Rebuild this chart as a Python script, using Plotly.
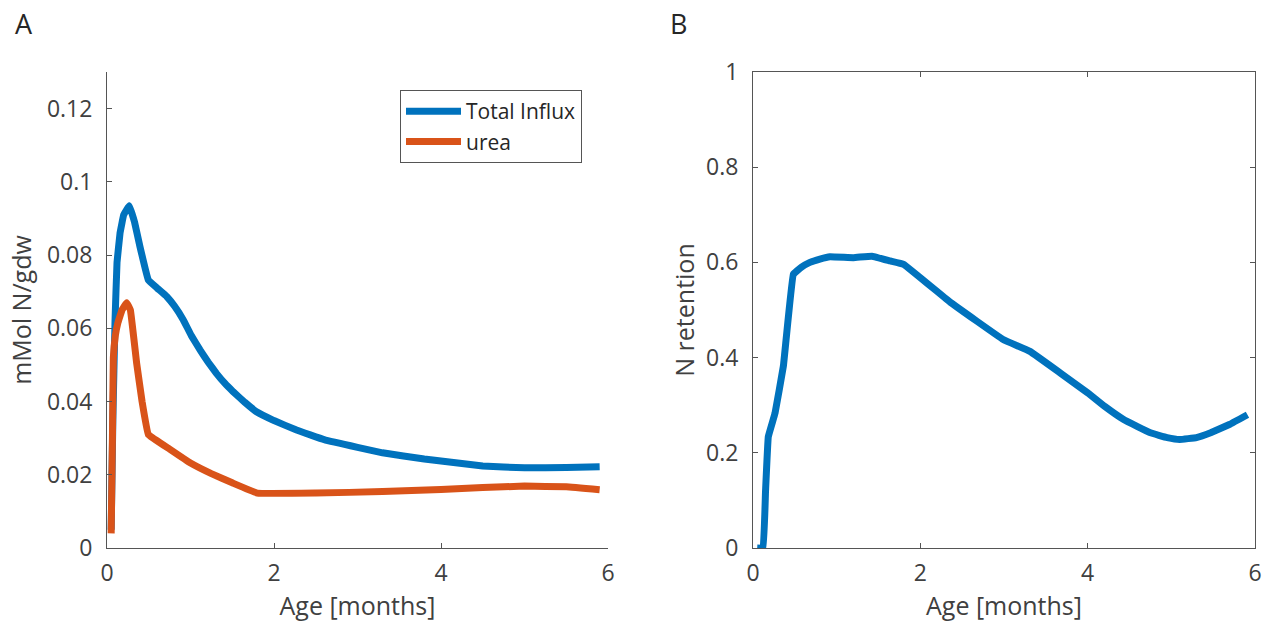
import plotly.graph_objects as go

# Panel A: nitrogen influx (mMol N / gdw) against age in months
age_influx = [0.05, 0.07, 0.096, 0.12, 0.156, 0.2, 0.267, 0.33, 0.395, 0.495, 0.6, 0.715,
              0.81, 0.914, 1.01, 1.114, 1.21, 1.31, 1.41, 1.51, 1.65, 1.79, 2.0, 2.27, 2.6,
              3.0, 3.3, 3.8, 4.5, 5.0, 5.5, 5.9]
total_influx = [0.005, 0.035, 0.062, 0.078, 0.086, 0.091, 0.0935, 0.089, 0.0823, 0.0732,
                0.071, 0.0687, 0.066, 0.0623, 0.058, 0.0541, 0.0508, 0.0477, 0.045, 0.0427,
                0.0398, 0.0372, 0.0348, 0.0322, 0.0296, 0.0275, 0.026, 0.0243, 0.0224,
                0.0219, 0.022, 0.0222]

age_urea = [0.05, 0.065, 0.076, 0.1, 0.13, 0.18, 0.236, 0.28, 0.355, 0.42, 0.495, 0.75,
            1.0, 1.25, 1.5, 1.8, 2.5, 3.3, 4.0, 4.5, 5.0, 5.5, 5.9]
urea = [0.004, 0.03, 0.052, 0.058, 0.0615, 0.065, 0.067, 0.065, 0.0505, 0.04, 0.031, 0.027,
        0.0232, 0.0203, 0.0178, 0.015, 0.015, 0.0154, 0.016, 0.0165, 0.0169, 0.0167, 0.0159]

# Panel B: nitrogen retention against age in months
age_retention = [0.05, 0.12, 0.15, 0.183, 0.263, 0.363, 0.482, 0.58, 0.68, 0.8, 0.92, 1.2,
                 1.42, 1.64, 1.8, 2.36, 2.99, 3.31, 3.67, 4.0, 4.2, 4.43, 4.75, 4.95, 5.1,
                 5.3, 5.47, 5.7, 5.91]
retention = [0.0, 0.0, 0.12, 0.234, 0.283, 0.382, 0.575, 0.59, 0.6, 0.607, 0.612, 0.61,
             0.613, 0.603, 0.596, 0.516, 0.438, 0.413, 0.368, 0.326, 0.298, 0.27, 0.242,
             0.232, 0.228, 0.232, 0.242, 0.26, 0.28]

BLUE = "#0072BD"
RED = "#D95319"
AXIS = "#555555"
TEXT = "#404040"
FONT = "Open Sans"

line_style = dict(width=7, shape="spline", smoothing=0.2)

fig = go.Figure()
fig.add_trace(go.Scatter(x=age_influx, y=total_influx, mode="lines", name="Total Influx",
                         line=dict(color=BLUE, **line_style), xaxis="x", yaxis="y"))
fig.add_trace(go.Scatter(x=age_urea, y=urea, mode="lines", name="urea",
                         line=dict(color=RED, **line_style), xaxis="x", yaxis="y"))
fig.add_trace(go.Scatter(x=age_retention, y=retention, mode="lines", showlegend=False,
                         line=dict(color=BLUE, **line_style), xaxis="x2", yaxis="y2"))

W, H = 1264, 628
y_dom = [1 - 548 / H, 1 - 72 / H]

common = dict(showgrid=False, zeroline=False, showline=True, linecolor=AXIS, linewidth=1,
              ticks="inside", ticklen=5, tickcolor=AXIS, automargin=False,
              tickfont=dict(family=FONT, size=23, color=TEXT),
              title_font=dict(family=FONT, size=25, color=TEXT))
x_common = dict(range=[0, 6], tickvals=[0, 2, 4, 6], ticklabelstandoff=4,
                title=dict(text="Age [months]", standoff=6))

fig.update_layout(
    width=W, height=H,
    margin=dict(l=0, r=0, t=0, b=0),
    paper_bgcolor="white", plot_bgcolor="white",
    font=dict(family=FONT, color=TEXT),
    xaxis=dict(domain=[107 / W, 608 / W], anchor="y", **x_common, **common),
    yaxis=dict(domain=y_dom, range=[0, 0.13], tickvals=[0, 0.02, 0.04, 0.06, 0.08, 0.1, 0.12],
               ticklabelstandoff=9, title=dict(text="mMol N/gdw", standoff=8),
               anchor="x", **common),
    xaxis2=dict(domain=[753 / W, 1255 / W], anchor="y2", mirror="ticks", **x_common, **common),
    yaxis2=dict(domain=y_dom, range=[0, 1], tickvals=[0, 0.2, 0.4, 0.6, 0.8, 1],
                ticklabelstandoff=9, title=dict(text="N retention", standoff=4),
                anchor="x2", mirror="ticks", **common),
    legend=dict(x=400 / W, y=1 - 90 / H, xanchor="left", yanchor="top",
                bordercolor="#555555", borderwidth=1, bgcolor="white",
                font=dict(family=FONT, size=21, color="#262626"),
                itemwidth=55, tracegroupgap=0),
    annotations=[
        dict(text="A", x=24 / W, y=1 - 24 / H, xref="paper", yref="paper", showarrow=False,
             xanchor="center", yanchor="middle",
             font=dict(family=FONT, size=27, color="#262626")),
        dict(text="B", x=678 / W, y=1 - 24 / H, xref="paper", yref="paper", showarrow=False,
             xanchor="center", yanchor="middle",
             font=dict(family=FONT, size=27, color="#262626")),
    ],
)

fig.write_html("out.html")
